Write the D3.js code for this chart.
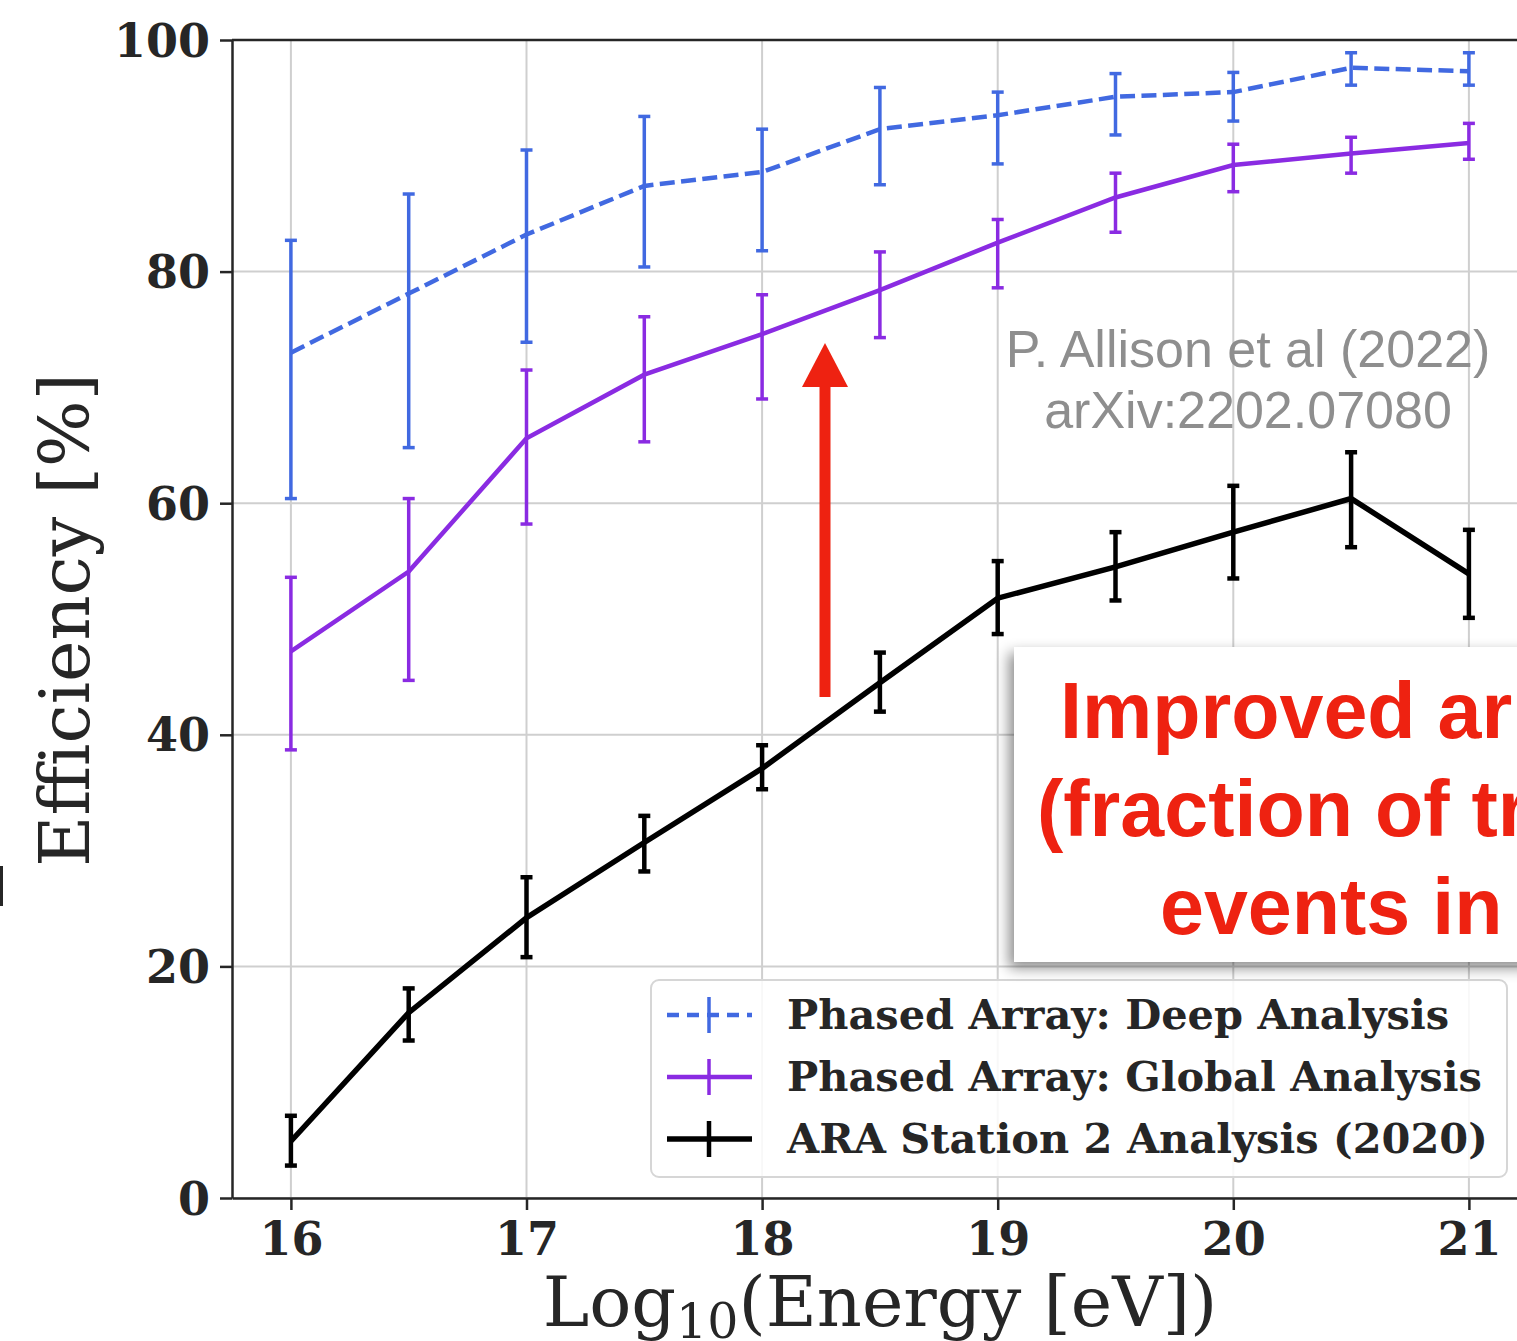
<!DOCTYPE html>
<html lang="en">
<head>
  <meta charset="UTF-8">
  <title>ARA efficiency</title>
  <script src="https://d3js.org/d3.v7.min.js"></script>
  <style>
    body { margin: 0; background: #fff; }
    svg { display: block; }
  </style>
</head>
<body>
<svg></svg>
<script>
  const energy = [16, 16.5, 17, 17.5, 18, 18.5, 19, 19.5, 20, 20.5, 21]

  const deep   = [73.0, 78.1, 83.2, 87.4, 88.6, 92.3, 93.5, 95.1, 95.5, 97.6, 97.3]
  const deepLo = [60.4, 64.8, 73.9, 80.4, 81.8, 87.5, 89.3, 91.8, 93.0, 96.1, 96.1]
  const deepHi = [82.7, 86.7, 90.5, 93.4, 92.3, 95.9, 95.5, 97.1, 97.2, 98.9, 98.9]

  const glob   = [47.2, 54.1, 65.6, 71.1, 74.6, 78.4, 82.5, 86.4, 89.2, 90.2, 91.1]
  const globLo = [38.7, 44.7, 58.2, 65.3, 69.0, 74.3, 78.6, 83.4, 86.9, 88.5, 89.7]
  const globHi = [53.6, 60.4, 71.5, 76.1, 78.0, 81.7, 84.5, 88.5, 91.0, 91.6, 92.8]

  const ara    = [4.9, 16.0, 24.2, 30.7, 37.1, 44.5, 51.8, 54.5, 57.5, 60.4, 53.9]
  const araLo  = [2.8, 13.6, 20.8, 28.2, 35.3, 42.0, 48.7, 51.6, 53.5, 56.2, 50.1]
  const araHi  = [7.1, 18.1, 27.7, 33.0, 39.1, 47.1, 55.0, 57.5, 61.5, 64.4, 57.7]

  const xTicks = [16, 17, 18, 19, 20, 21]
  const yTicks = [0, 20, 40, 60, 80, 100]

  const seriesNames = ['Phased Array: Deep Analysis', 'Phased Array: Global Analysis', 'ARA Station 2 Analysis (2020)']
  const credit = ['P. Allison et al (2022)', 'arXiv:2202.07080']
  const boxText = ['Improved ar', '(fraction of tr', 'events in']

  const width = 1517, height = 1341
  const margin = {top: 40, left: 232, bottom: 143}

  const x = d3.scaleLinear()
      .domain([15.75, 21.25])
      .range([margin.left, margin.left + 5.5 * 235.6])

  const y = d3.scaleLinear()
      .domain([0, 100])
      .range([height - margin.bottom, margin.top])

  const serif = '"DejaVu Serif", serif'
  const sans = '"Liberation Sans", Arial, Helvetica, sans-serif'

  const svg = d3.select('svg')
      .attr('width', width)
      .attr('height', height)
      .attr('viewBox', [0, 0, width, height])

  const defs = svg.append('defs')
  defs.append('filter')
      .attr('id', 'shadow')
      .attr('x', '-20%').attr('y', '-20%').attr('width', '140%').attr('height', '140%')
    .append('feDropShadow')
      .attr('dx', -5).attr('dy', 6)
      .attr('stdDeviation', 7)
      .attr('flood-color', '#000')
      .attr('flood-opacity', 0.45)

  // grid
  svg.append('g')
      .attr('stroke', '#cfcfcf')
      .attr('stroke-width', 2)
    .call(g => g.selectAll('.vx').data(xTicks).join('line')
        .attr('x1', d => x(d)).attr('x2', d => x(d))
        .attr('y1', y(0)).attr('y2', y(100)))
    .call(g => g.selectAll('.hy').data(yTicks).join('line')
        .attr('x1', x.range()[0]).attr('x2', x.range()[1])
        .attr('y1', d => y(d)).attr('y2', d => y(d)))

  // axes
  const xAxis = svg.append('g')
      .attr('transform', `translate(0,${y(0)})`)
      .call(d3.axisBottom(x).tickValues(xTicks).tickFormat(d3.format('d'))
          .tickSize(12).tickPadding(10).tickSizeOuter(0))
  const yAxis = svg.append('g')
      .attr('transform', `translate(${x.range()[0]},0)`)
      .call(d3.axisLeft(y).tickValues(yTicks).tickSize(12).tickPadding(10).tickSizeOuter(0))

  ;[xAxis, yAxis].forEach(a => {
    a.select('.domain').attr('stroke', '#262626').attr('stroke-width', 2.5)
    a.selectAll('.tick line').attr('stroke', '#262626').attr('stroke-width', 2.5)
    a.selectAll('.tick text')
        .attr('fill', '#262626')
        .style('font-family', serif)
        .style('font-weight', 'bold')
        .style('font-size', '46px')
  })
  xAxis.selectAll('.tick text').attr('dy', '0.75em')
  yAxis.selectAll('.tick text').attr('dy', '0.35em')

  // top spine
  svg.append('line')
      .attr('x1', x.range()[0]).attr('x2', x.range()[1])
      .attr('y1', y(100)).attr('y2', y(100))
      .attr('stroke', '#262626').attr('stroke-width', 2.5)

  // axis labels
  svg.append('text')
      .attr('transform', `translate(89,${(y(0) + y(100)) / 2 + 1}) rotate(-90)`)
      .attr('text-anchor', 'middle')
      .attr('fill', '#262626')
      .style('font-family', serif)
      .style('font-size', '70px')
      .text('Efficiency [%]')

  const xl = svg.append('text')
      .attr('x', 880).attr('y', 1326)
      .attr('text-anchor', 'middle')
      .attr('fill', '#262626')
      .style('font-family', serif)
      .style('font-size', '70px')
  xl.append('tspan').text('Log')
  xl.append('tspan').attr('dy', 12).style('font-size', '49px').text('10')
  xl.append('tspan').attr('dy', -12).text('(Energy [eV])')

  // series
  const series = [
    {name: seriesNames[0], v: deep, lo: deepLo, hi: deepHi, color: '#4169e1', lw: 4.5, dash: '15,6.4', ew: 3.5, cap: 6},
    {name: seriesNames[1], v: glob, lo: globLo, hi: globHi, color: '#8a2be2', lw: 4.5, dash: null, ew: 3.5, cap: 6},
    {name: seriesNames[2], v: ara, lo: araLo, hi: araHi, color: '#000000', lw: 5.5, dash: null, ew: 4.5, cap: 6}
  ]

  const line = d3.line().x(d => x(d[0])).y(d => y(d[1]))

  series.slice().reverse().forEach(s => {
    const g = svg.append('g')
    g.append('path')
        .datum(energy.map((e, i) => [e, s.v[i]]))
        .attr('d', line)
        .attr('fill', 'none')
        .attr('stroke', s.color)
        .attr('stroke-width', s.lw)
        .attr('stroke-dasharray', s.dash)
    const eb = g.selectAll('.eb').data(energy).join('g')
        .attr('stroke', s.color).attr('stroke-width', s.ew)
    eb.append('line')
        .attr('x1', d => x(d)).attr('x2', d => x(d))
        .attr('y1', (d, i) => y(s.lo[i])).attr('y2', (d, i) => y(s.hi[i]))
    eb.append('line')
        .attr('x1', d => x(d) - s.cap).attr('x2', d => x(d) + s.cap)
        .attr('y1', (d, i) => y(s.lo[i])).attr('y2', (d, i) => y(s.lo[i]))
    eb.append('line')
        .attr('x1', d => x(d) - s.cap).attr('x2', d => x(d) + s.cap)
        .attr('y1', (d, i) => y(s.hi[i])).attr('y2', (d, i) => y(s.hi[i]))
  })

  // legend
  const lg = svg.append('g').attr('transform', 'translate(651,980)')
  lg.append('rect')
      .attr('width', 856).attr('height', 197).attr('rx', 8)
      .attr('fill', 'rgba(255,255,255,0.85)')
      .attr('stroke', '#d6d6d6').attr('stroke-width', 2)
  const row = lg.selectAll('.row').data(series).join('g')
      .attr('transform', (d, i) => `translate(0,${35 + i * 62})`)
  row.append('line')
      .attr('x1', 16).attr('x2', 101)
      .attr('stroke', d => d.color).attr('stroke-width', d => d.lw)
      .attr('stroke-dasharray', d => d.dash ? '12,8' : null)
  row.append('line')
      .attr('x1', 58).attr('x2', 58).attr('y1', -18).attr('y2', 18)
      .attr('stroke', d => d.color).attr('stroke-width', d => d.ew)
  row.append('text')
      .attr('x', 136).attr('y', 14)
      .attr('fill', '#262626')
      .style('font-family', serif)
      .style('font-weight', 'bold')
      .style('font-size', '41.5px')
      .text(d => d.name)

  // credit
  svg.append('g').selectAll('text').data(credit).join('text')
      .attr('x', 1248).attr('y', (d, i) => 367 + i * 61)
      .attr('text-anchor', 'middle')
      .attr('fill', '#8e8e8e')
      .style('font-family', sans)
      .style('font-size', '52px')
      .text(d => d)

  // red arrow
  svg.append('line')
      .attr('x1', 825).attr('x2', 825).attr('y1', 697).attr('y2', 385)
      .attr('stroke', '#ee2211').attr('stroke-width', 11)
  svg.append('path')
      .attr('d', 'M802,387 L825,343 L848,387 Z')
      .attr('fill', '#ee2211')

  // annotation box
  svg.append('rect')
      .attr('x', 1014).attr('y', 647).attr('width', 560).attr('height', 315)
      .attr('fill', '#fff')
      .attr('filter', 'url(#shadow)')
  const bx = [1060, 1037, 1160]
  svg.append('g').selectAll('text').data(boxText).join('text')
      .attr('x', (d, i) => bx[i]).attr('y', (d, i) => 738 + i * 98)
      .attr('fill', '#ee2211')
      .style('font-family', sans)
      .style('font-weight', 'bold')
      .style('font-size', '79px')
      .text(d => d)

  // clipped mark at left edge
  svg.append('rect').attr('x', 0).attr('y', 866).attr('width', 3).attr('height', 40).attr('fill', '#262626')
</script>
</body>
</html>
